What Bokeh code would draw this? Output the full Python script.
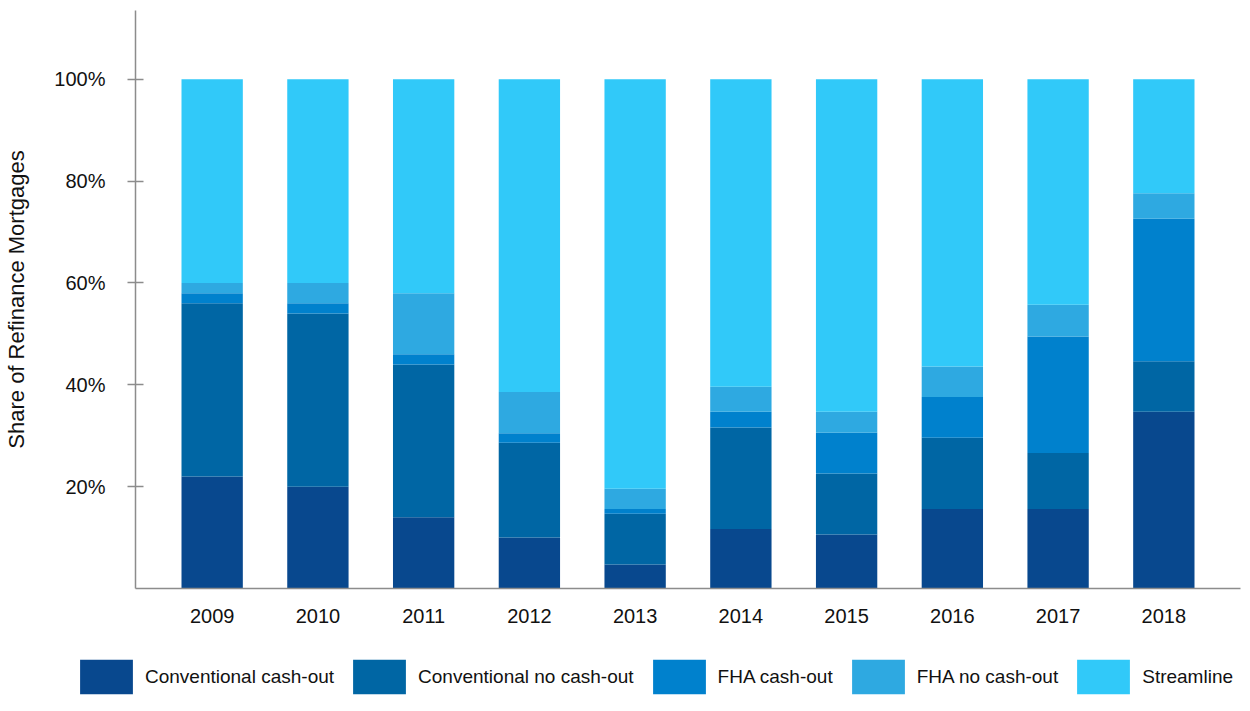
from bokeh.plotting import figure
from bokeh.layouts import column, row
from bokeh.models import FixedTicker, PrintfTickFormatter, Legend, LegendItem, FactorRange, Range1d
from bokeh.embed import file_html
from bokeh.resources import INLINE

years = ["2009", "2010", "2011", "2012", "2013", "2014", "2015", "2016", "2017", "2018"]
conv_cash_out = [22, 20, 14, 10, 4.7, 11.7, 10.6, 15.6, 15.6, 34.7]
conv_no_cash_out = [34, 34, 30, 18.6, 10, 19.9, 12, 14, 11, 9.9]
fha_cash_out = [2, 2, 2, 1.9, 0.9, 3.1, 8, 8, 22.9, 28]
fha_no_cash_out = [2, 4, 12, 8.1, 4, 4.9, 4.1, 6, 6.2, 5]
streamline = [40, 40, 42, 61.4, 80.4, 60.4, 65.3, 56.4, 44.3, 22.4]

series_names = ["Conventional cash-out", "Conventional no cash-out", "FHA cash-out",
                "FHA no cash-out", "Streamline"]
keys = ["cc", "cnc", "fco", "fno", "sl"]
colors = ["#08488e", "#0066a4", "#0081cd", "#2ea9e1", "#31c9f9"]

data = dict(years=years, cc=conv_cash_out, cnc=conv_no_cash_out, fco=fha_cash_out,
            fno=fha_no_cash_out, sl=streamline)

FONT = "Liberation Sans"

p = figure(width=1250, height=640, x_range=FactorRange(*years, range_padding=0.045),
           y_range=Range1d(0, 113.5), output_backend="svg", toolbar_location=None,
           min_border_left=135, min_border_right=10, min_border_top=10, min_border_bottom=52)
p.outline_line_color = None
p.grid.grid_line_color = None
p.background_fill_color = "white"

p.vbar_stack(keys, x="years", width=0.58, color=colors, source=data, line_color=None)

p.yaxis.ticker = FixedTicker(ticks=[20, 40, 60, 80, 100])
p.yaxis.formatter = PrintfTickFormatter(format="%d%%")
p.yaxis.axis_label = "Share of Refinance Mortgages"
p.yaxis.axis_label_text_font = FONT
p.yaxis.axis_label_text_font_size = "22px"
p.yaxis.axis_label_text_font_style = "normal"
p.yaxis.axis_label_text_color = "#111111"
p.yaxis.axis_label_standoff = 22
p.yaxis.major_tick_in = 8
p.yaxis.major_tick_out = 8
p.yaxis.minor_tick_line_color = None
p.yaxis.major_label_standoff = 22

for ax in (p.xaxis, p.yaxis):
    ax.axis_line_color = "#8c8c8c"
    ax.axis_line_width = 1.5
    ax.major_tick_line_color = "#8c8c8c"
    ax.major_tick_line_width = 1.5
    ax.major_label_text_font = FONT
    ax.major_label_text_font_size = "20px"
    ax.major_label_text_color = "#111111"

p.xaxis.major_tick_line_color = None
p.xaxis.minor_tick_line_color = None
p.xaxis.major_label_standoff = 14

# legend strip
lg = figure(width=1250, height=71, x_range=Range1d(0, 1250), y_range=Range1d(0, 71),
            output_backend="svg", toolbar_location=None,
            min_border_left=0, min_border_right=0, min_border_top=0, min_border_bottom=0)
lg.axis.visible = False
lg.grid.grid_line_color = None
lg.outline_line_color = None
items = []
for name, c in zip(series_names, colors):
    r = lg.vbar(x=[-1000], top=[0], width=1, color=c, line_color=None)
    items.append(LegendItem(label=name, renderers=[r]))
legend = Legend(items=items, orientation="horizontal", location=(73, 13),
                glyph_width=66, glyph_height=43, label_standoff=6, spacing=12,
                padding=0, margin=0, border_line_color=None, background_fill_alpha=0,
                label_text_font=FONT, label_text_font_size="19px", label_text_color="#111111")
lg.add_layout(legend)

layout = column(p, row(lg), spacing=0)
open("out.html", "w").write(file_html(layout, INLINE))
